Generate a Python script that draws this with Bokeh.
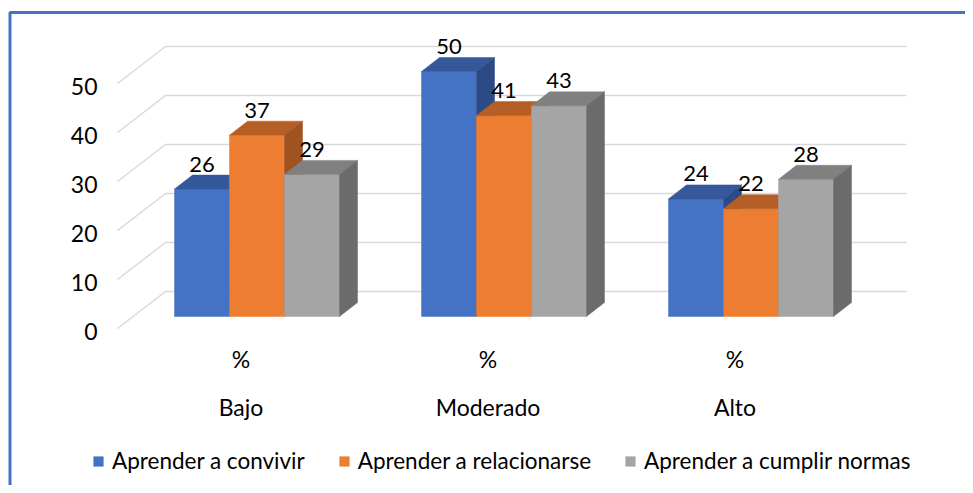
from bokeh.plotting import figure
from bokeh.models import Range1d, Legend, LegendItem
from bokeh.embed import file_html
from bokeh.resources import INLINE
from bokeh.core.properties import value

# ---- data ----
categories = ["Bajo", "Moderado", "Alto"]
sub_label = "%"
series_names = ["Aprender a convivir", "Aprender a relacionarse", "Aprender a cumplir normas"]
convivir = [26, 50, 24]
relacionarse = [37, 41, 22]
cumplir = [29, 43, 28]
y_ticks = [0, 10, 20, 30, 40, 50]

# ---- style ----
front_colors = ["#4472C4", "#ED7D31", "#A5A5A5"]
top_colors = ["#34589A", "#B55E25", "#808080"]
side_colors = ["#2C4B84", "#A0521F", "#6B6B6B"]
FONT = "Lato"
TXT = "#000000"

W, H = 965, 485
PX_X = 247.0   # pixels per category
PX_Y = 4.9     # pixels per value unit
X0, Y0 = 240.5, 328.0   # pixel position of category 0 / value 0 on the front floor edge
x_start = -X0 / PX_X
x_end = x_start + W / PX_X
y_end = Y0 / PX_Y
y_start = y_end - H / PX_Y

def dxp(px):
    return px / PX_X

def dyp(px):
    return px / PX_Y

bar_w = dxp(55)
bfx, bfy = dxp(16), dyp(12)     # bar front offset from floor front
bdx, bdy = dxp(18), dyp(14)     # bar depth
wdx, wdy = dxp(48), dyp(37)     # back wall offset

p = figure(width=W, height=H, x_range=Range1d(x_start, x_end), y_range=Range1d(y_start, y_end),
           output_backend="svg", toolbar_location=None, x_axis_location=None, y_axis_location=None,
           min_border=0)
p.grid.visible = False
p.outline_line_color = None
p.background_fill_color = "white"
p.border_fill_color = "white"

# gridlines (side wall diagonal + back wall)
n = len(categories)
gx = [[-0.5, -0.5 + wdx, n - 0.5 + wdx] for _ in y_ticks]
gy = [[v, v + wdy, v + wdy] for v in y_ticks]
p.multi_line(gx, gy, line_color="#D9D9D9", line_width=1.5)

# tick labels
p.text(x=[-0.5] * len(y_ticks), y=y_ticks, text=[str(v) for v in y_ticks],
       text_align="right", text_baseline="middle", x_offset=-20, y_offset=3,
       text_font=value(FONT), text_font_size="23px", text_color=TXT)

# bars
series = [convivir, relacionarse, cumplir]
legend_items = []
for j, vals in enumerate(series):
    lefts = [i + bfx + (j - 1.5) * bar_w for i in range(n)]
    rights = [l + bar_w for l in lefts]
    bottoms = [bfy] * n
    tops = [v + bfy for v in vals]
    r = p.quad(left=lefts, right=rights, bottom=bottoms, top=tops,
               fill_color=front_colors[j], line_color=front_colors[j], line_width=0.5)
    p.patches([[l, rr, rr + bdx, l + bdx] for l, rr in zip(lefts, rights)],
              [[t, t, t + bdy, t + bdy] for t in tops],
              fill_color=top_colors[j], line_color=top_colors[j], line_width=0.5)
    p.patches([[rr, rr + bdx, rr + bdx, rr] for rr in rights],
              [[b, b + bdy, t + bdy, t] for b, t in zip(bottoms, tops)],
              fill_color=side_colors[j], line_color=side_colors[j], line_width=0.5)
    p.text(x=[(l + rr) / 2 for l, rr in zip(lefts, rights)], y=[t + bdy for t in tops],
           text=[str(v) for v in vals], text_align="center", text_baseline="middle",
           y_offset=-11, text_font=value(FONT), text_font_size="22px", text_color=TXT)
    legend_items.append(LegendItem(label=series_names[j], renderers=[r]))

# category labels (two levels)
p.text(x=list(range(n)), y=[0] * n, text=[sub_label] * n, text_align="center",
       text_baseline="middle", y_offset=30, text_font=value(FONT), text_font_size="23px",
       text_color=TXT)
p.text(x=list(range(n)), y=[0] * n, text=categories, text_align="center",
       text_baseline="middle", y_offset=78, text_font=value(FONT), text_font_size="23px",
       text_color=TXT)

# border of the chart area
bx = x_start + dxp(9.5)
by = (Y0 - 12) / PX_Y
p.line([bx, bx, x_end + 1], [y_start - 5, by, by], line_color="#4472C4", line_width=3)

legend = Legend(items=legend_items, orientation="horizontal", location=(92, 11),
                glyph_width=12, glyph_height=12, label_standoff=8, spacing=33,
                padding=0, margin=0, border_line_color=None, background_fill_alpha=0,
                label_text_font=FONT, label_text_font_size="22.5px", label_text_color=TXT,
                label_height=26)
p.add_layout(legend)

open("out.html", "w").write(file_html(p, INLINE))
